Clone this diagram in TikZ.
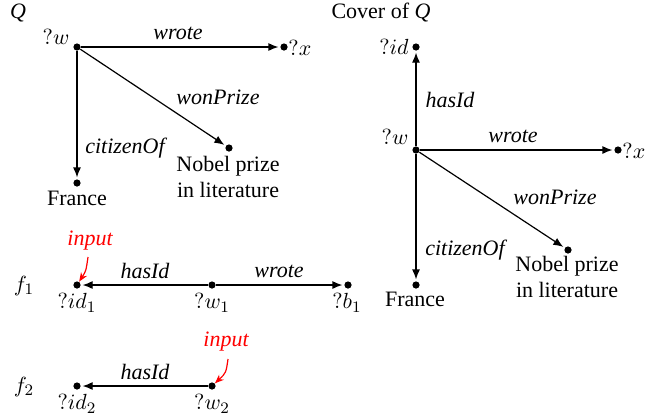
\documentclass[tikz,border=0pt]{standalone}
\usepackage[no-math]{fontspec}
\setmainfont{Liberation Serif}
\usetikzlibrary{arrows.meta}
\begin{document}
\begin{tikzpicture}[x=0.5pt,y=-0.5pt,
  every node/.style={font=\fontsize{11}{13}\selectfont},
  dot/.style={circle,fill,inner sep=0pt,minimum size=3.6pt},
  arr/.style={-{Latex[length=5pt,width=4pt]},line width=0.6pt,shorten >=0.8pt},
  lab/.style={font=\fontsize{11}{13}\selectfont\itshape},
  txt/.style={align=center,inner sep=0pt},
  inp/.style={red,-{Stealth[length=4.5pt,width=3.5pt]},line width=0.6pt}]
\useasboundingbox (0,0) rectangle (672,419);
% ---------- Q ----------
\node[lab] (qt) at (18,13) {\textit{Q}};
\node[dot] (w) at (77,47) {};
\node[dot] (x) at (284,47) {};
\node[dot] (fr) at (77,183) {};
\node[dot] (nb) at (229,148) {};
\node (wl) at (56,37) {$?w$};
\node[anchor=west,inner sep=0pt] (xl) at (288,48) {$?x$};
\node (frl) at (77,198) {France};
\node[txt] (nbl) at (228,177) {Nobel prize\\in literature};
\draw[arr] (w) -- (x);
\node[lab] (wrote1) at (178,33) {wrote};
\node[lab] (won1) at (218,97) {wonPrize};
\node[lab] (cit1) at (125,148) {citizenOf};
\draw[arr] (w) -- (nb);
\draw[arr] (w) -- (fr);
% ---------- Cover of Q ----------
\node (ct) at (381,13) {Cover of \textit{Q}};
\node[dot] (cw) at (416,150) {};
\node[dot] (cid) at (416,47) {};
\node[dot] (cx) at (618,150) {};
\node[dot] (cfr) at (416,285) {};
\node[dot] (cnb) at (568,250) {};
\node (cidl) at (394,47) {$?id$};
\node (cwl) at (395,137) {$?w$};
\node[anchor=west,inner sep=0pt] (cxl) at (622,151) {$?x$};
\node (cfrl) at (415,299) {France};
\node[txt] (cnbl) at (567,277) {Nobel prize\\in literature};
\node[lab] (hasc) at (450,100) {hasId};
\node[lab] (wrc) at (513,136) {wrote};
\node[lab] (wonc) at (555,197) {wonPrize};
\node[lab] (citc) at (465,250) {citizenOf};
\draw[arr] (cw) -- (cid);
\draw[arr] (cw) -- (cx);
\draw[arr] (cw) -- (cnb);
\draw[arr] (cw) -- (cfr);
% ---------- f1 ----------
\node (f1) at (24,286) {$f_1$};
\node[dot] (id1) at (77,285) {};
\node[dot] (w1) at (212,285) {};
\node[dot] (b1) at (348,285) {};
\node (id1l) at (77,303) {$?id_1$};
\node (w1l) at (212,303) {$?w_1$};
\node (b1l) at (347,303) {$?b_1$};
\node[lab] (has1) at (145,271) {hasId};
\node[lab] (wr1) at (279,271) {wrote};
\draw[arr] (w1) -- (id1);
\draw[arr] (w1) -- (b1);
\node[lab,red] (in1) at (90,241) {input};
\coordinate (in1s) at (88,257);
\draw[inp] (in1s) .. controls (86,271) .. (id1);
% ---------- f2 ----------
\node (f2) at (24,387) {$f_2$};
\node[dot] (id2) at (77,386) {};
\node[dot] (w2) at (212,386) {};
\node (id2l) at (77,404) {$?id_2$};
\node (w2l) at (212,404) {$?w_2$};
\node[lab] (has2) at (145,372) {hasId};
\draw[arr] (w2) -- (id2);
\node[lab,red] (in2) at (226,342) {input};
\coordinate (in2s) at (228,359);
\draw[inp] (in2s) .. controls (226,373) .. (w2);
\end{tikzpicture}
\end{document}
